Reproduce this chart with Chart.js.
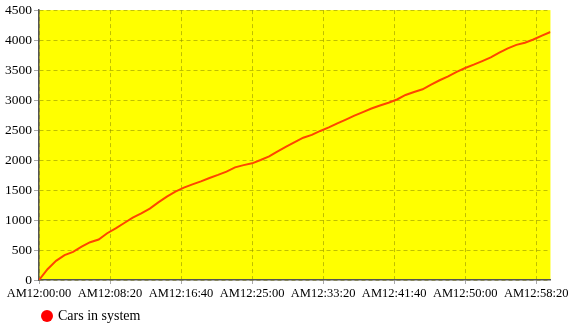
<!DOCTYPE html>
<html>
<head>
<meta charset="utf-8">
<script src="https://cdn.jsdelivr.net/npm/chart.js@4"></script>
<style>
  html, body { margin: 0; padding: 0; background: #fff; }
  #wrap { position: relative; width: 571px; height: 326px; }
  #legend { position: absolute; left: 41px; top: 308px; font-family: "Times New Roman", "Liberation Serif", Times, serif; font-size: 14px; color: #000; display: flex; align-items: center; }
  #legend span.dot { display: inline-block; width: 12px; height: 12px; border-radius: 50%; background: #ff0000; margin-right: 5px; }
</style>
</head>
<body>
<div id="wrap">
  <canvas id="chart" width="571" height="326"></canvas>
  <div id="legend"><span class="dot"></span><span>Cars in system</span></div>
</div>
<script>
// seconds since start
const times = [0, 60, 120, 180, 240, 300, 360, 420, 480, 540, 600, 660, 720, 780, 840, 900, 960, 1020, 1080, 1140,
  1200, 1260, 1320, 1380, 1440, 1500, 1560, 1620, 1680, 1740, 1800, 1860, 1920, 1980, 2040, 2100, 2160, 2220, 2280, 2340,
  2400, 2460, 2520, 2580, 2640, 2700, 2760, 2820, 2880, 2940, 3000, 3060, 3120, 3180, 3240, 3300, 3360, 3420, 3480, 3540, 3600];
const carsInSystem = [0, 180, 320, 415, 470, 555, 630, 675, 780, 860, 950, 1040, 1112, 1190, 1295, 1390, 1475, 1540, 1595, 1645,
  1700, 1752, 1808, 1878, 1915, 1945, 2000, 2060, 2145, 2225, 2300, 2372, 2420, 2485, 2545, 2612, 2675, 2740, 2800, 2860,
  2910, 2955, 3010, 3085, 3135, 3180, 3258, 3330, 3395, 3470, 3535, 3590, 3650, 3712, 3790, 3862, 3920, 3956, 4010, 4075, 4135];
const xTicks = [0, 500, 1000, 1500, 2000, 2500, 3000, 3500];
const yTicks = [0, 500, 1000, 1500, 2000, 2500, 3000, 3500, 4000, 4500];

const serif = '"Times New Roman", "Liberation Serif", Times, serif';

function timeLabel(sec) {
  const m = Math.floor(sec / 60);
  const s = sec % 60;
  return 'AM12:' + String(m).padStart(2, '0') + ':' + String(s).padStart(2, '0');
}

const plotBg = {
  id: 'plotBg',
  beforeDraw(chart) {
    const { ctx, chartArea: a } = chart;
    ctx.save();
    ctx.fillStyle = '#ffff00';
    ctx.fillRect(a.left, a.top, a.right - a.left, a.bottom - a.top);
    ctx.restore();
  }
};

const gridColor = 'rgba(140,140,0,0.55)';

new Chart(document.getElementById('chart'), {
  type: 'line',
  data: {
    datasets: [{
      label: 'Cars in system',
      data: times.map((t, i) => ({ x: t, y: carsInSystem[i] })),
      borderColor: '#ff4500',
      borderWidth: 2,
      pointRadius: 0,
      tension: 0,
      fill: false
    }]
  },
  options: {
    responsive: false,
    animation: false,
    layout: { padding: { top: 10, right: 17, left: 0, bottom: 0 } },
    plugins: { legend: { display: false }, tooltip: { enabled: false } },
    scales: {
      x: {
        type: 'linear',
        min: 0,
        max: 3600,
        afterBuildTicks: (axis) => { axis.ticks = xTicks.map(v => ({ value: v })); },
        afterFit: (axis) => { axis.height = 46; },
        grid: { color: gridColor, tickColor: '#aaa', tickLength: 4 },
        border: { color: '#555', width: 1.5, dash: [4, 3] },
        ticks: {
          callback: (v) => timeLabel(v),
          font: { family: serif, size: 12.5 },
          color: '#000',
          padding: 2,
          maxRotation: 0,
          autoSkip: false
        }
      },
      y: {
        min: 0,
        max: 4500,
        afterBuildTicks: (axis) => { axis.ticks = yTicks.map(v => ({ value: v })); },
        afterFit: (axis) => { axis.width = 39; },
        grid: { color: gridColor, tickColor: '#aaa', tickLength: 5 },
        border: { color: '#555', width: 1.5, dash: [4, 3] },
        ticks: {
          callback: (v) => String(v),
          font: { family: serif, size: 13.5 },
          color: '#000',
          padding: 2
        }
      }
    }
  },
  plugins: [plotBg]
});
</script>
</body>
</html>
